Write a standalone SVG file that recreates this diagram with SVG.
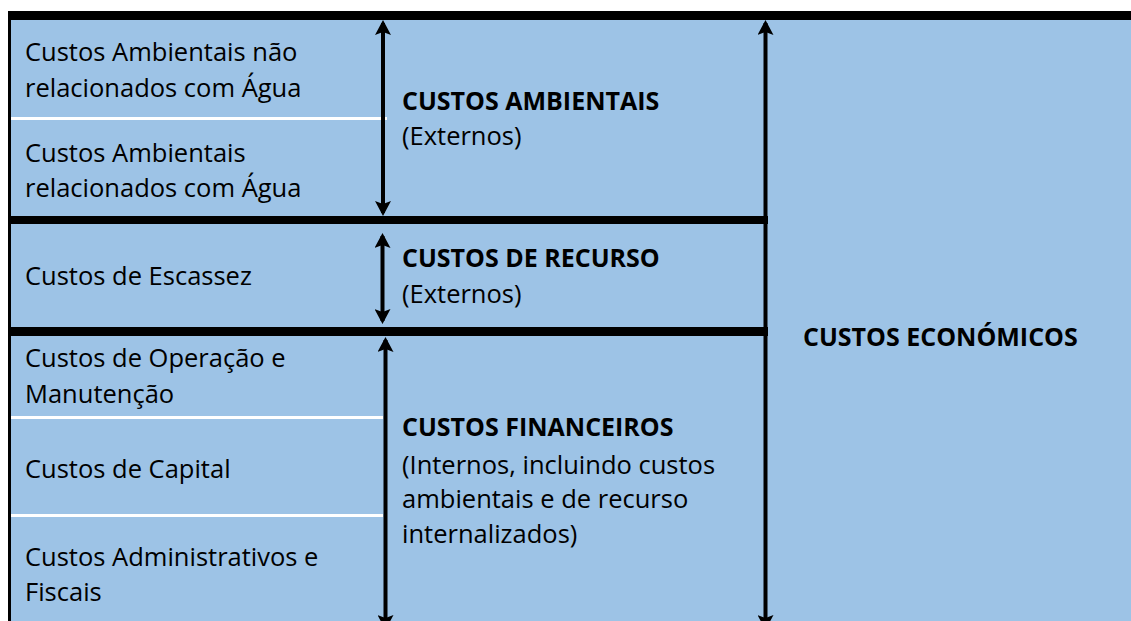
<svg xmlns="http://www.w3.org/2000/svg" width="1131" height="621" viewBox="0 0 1131 621">
<style>
.bg{fill:#9dc3e6}
.bar{fill:#000}
.sep{fill:#fff}
.t{font-family:"Open Sans","Liberation Sans",sans-serif;font-size:25.5px;fill:#000}
.b{font-weight:bold;font-size:25px}
.arr{stroke:#000;stroke-width:4;fill:none}
</style>
<defs>
<marker id="ah" markerUnits="userSpaceOnUse" markerWidth="16" markerHeight="16" refX="12" refY="8" orient="auto-start-reverse">
<path d="M0,0 L15,8 L0,16 L3,8 Z" fill="#000"/>
</marker>
</defs>
<rect width="1131" height="621" fill="#fff"/>
<rect class="bg" x="8" y="11" width="1123" height="610"/>
<g id="borders">
<rect class="bar" x="8" y="11" width="1123" height="9"/>
<rect class="bar" x="8" y="11" width="3" height="610"/>
<rect class="bar" x="8" y="216" width="760" height="8"/>
<rect class="bar" x="8" y="327" width="760" height="9"/>
<rect class="sep" x="11" y="117" width="376" height="3"/>
<rect class="sep" x="11" y="416" width="372" height="3"/>
<rect class="sep" x="11" y="514" width="372" height="3"/>
</g>
<g id="connectors">
<line class="arr" x1="383" y1="23" x2="383" y2="213" marker-start="url(#ah)" marker-end="url(#ah)"/>
<line class="arr" x1="382.5" y1="236" x2="382.5" y2="321" marker-start="url(#ah)" marker-end="url(#ah)"/>
<line class="arr" x1="385.5" y1="340" x2="385.5" y2="627" marker-start="url(#ah)" marker-end="url(#ah)"/>
<line class="arr" x1="765.5" y1="23" x2="765.5" y2="627" stroke-width="5" marker-start="url(#ah)" marker-end="url(#ah)"/>
</g>
<g id="n-amb-nao">
<text class="t" x="25" y="61">Custos Ambientais não</text>
<text class="t" x="25" y="97">relacionados com Água</text>
</g>
<g id="n-amb-agua">
<text class="t" x="25" y="162">Custos Ambientais</text>
<text class="t" x="25" y="197">relacionados com Água</text>
</g>
<g id="n-escassez">
<text class="t" x="25" y="285">Custos de Escassez</text>
</g>
<g id="n-operacao">
<text class="t" x="25" y="367">Custos de Operação e</text>
<text class="t" x="25" y="403">Manutenção</text>
</g>
<g id="n-capital">
<text class="t" x="25" y="478">Custos de Capital</text>
</g>
<g id="n-admin">
<text class="t" x="25" y="566">Custos Administrativos e</text>
<text class="t" x="25" y="601">Fiscais</text>
</g>
<g id="n-ambientais">
<text class="t b" x="402" y="110">CUSTOS AMBIENTAIS</text>
<text class="t" x="402" y="145">(Externos)</text>
</g>
<g id="n-recurso">
<text class="t b" x="402" y="267">CUSTOS DE RECURSO</text>
<text class="t" x="402" y="303">(Externos)</text>
</g>
<g id="n-financeiros">
<text class="t b" x="402" y="436">CUSTOS FINANCEIROS</text>
<text class="t" x="402" y="474">(Internos, incluindo custos</text>
<text class="t" x="402" y="508">ambientais e de recurso</text>
<text class="t" x="402" y="543">internalizados)</text>
</g>
<g id="n-economicos">
<text class="t b" x="803" y="346">CUSTOS ECONÓMICOS</text>
</g>
</svg>
